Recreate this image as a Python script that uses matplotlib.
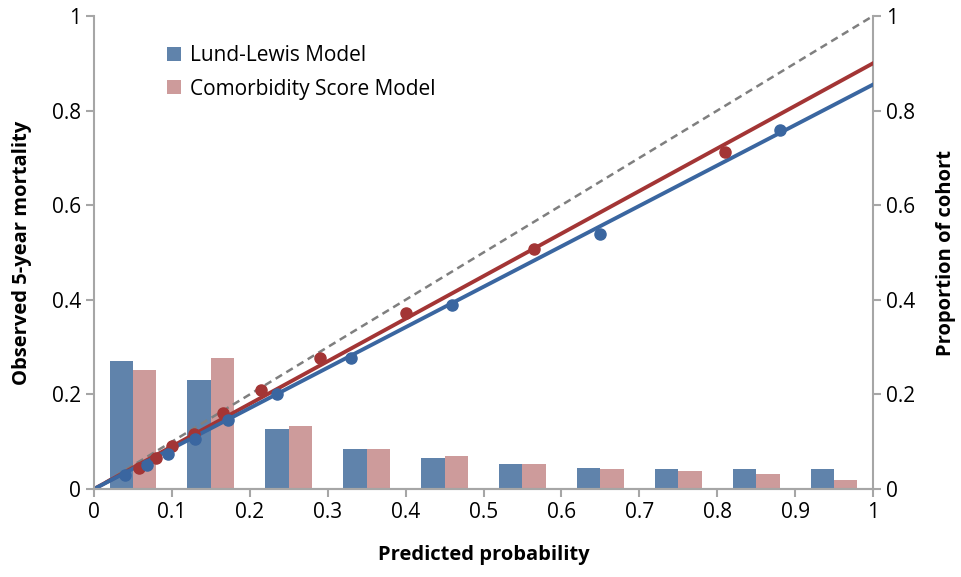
import numpy as np
import matplotlib.pyplot as plt
from matplotlib.ticker import FuncFormatter

plt.rcParams['font.family'] = ['Open Sans', 'DejaVu Sans']

# cohort proportion per decile of predicted probability
bin_centers = [0.05, 0.15, 0.25, 0.35, 0.45, 0.55, 0.65, 0.75, 0.85, 0.95]
lund_prop = [0.270, 0.231, 0.127, 0.085, 0.065, 0.053, 0.045, 0.043, 0.043, 0.043]
comorb_prop = [0.252, 0.278, 0.133, 0.085, 0.070, 0.053, 0.042, 0.037, 0.032, 0.020]

# calibration points (predicted, observed)
lund_pred = [0.040, 0.068, 0.095, 0.130, 0.172, 0.235, 0.330, 0.460, 0.650, 0.880]
lund_obs = [0.030, 0.050, 0.075, 0.105, 0.145, 0.200, 0.278, 0.390, 0.540, 0.758]
comorb_pred = [0.058, 0.080, 0.100, 0.128, 0.165, 0.215, 0.290, 0.400, 0.565, 0.810]
comorb_obs = [0.045, 0.065, 0.090, 0.117, 0.160, 0.210, 0.278, 0.373, 0.507, 0.713]

# fitted calibration lines (slope, intercept)
lund_fit = (0.855, 0.0)
comorb_fit = (0.900, 0.0)

blue_bar = '#6083ab'
pink_bar = '#cd9b9b'
blue_line = '#3a66a0'
red_line = '#a33535'
axis_gray = '#a6a6a6'

fig = plt.figure(figsize=(9.61, 5.77), dpi=100)
ax = fig.add_axes([94 / 961, 1 - 489 / 577, (873 - 94) / 961, (489 - 16) / 577])
ax2 = ax.twinx()

w = 0.03
c = np.array(bin_centers)
ax2.bar(c - w / 2, lund_prop, width=w, color=blue_bar, label='Lund-Lewis Model', zorder=1)
ax2.bar(c + w / 2, comorb_prop, width=w, color=pink_bar, label='Comorbidity Score Model', zorder=1)

# draw lines on top of bars
ax.set_zorder(ax2.get_zorder() + 1)
ax.patch.set_visible(False)

xs = np.array([0, 1])
ax.plot(xs, xs, ls='--', color='#7f7f7f', lw=1.8, dashes=(3, 2))
ax.plot(xs, comorb_fit[0] * xs + comorb_fit[1], color=red_line, lw=2.8)
ax.plot(xs, lund_fit[0] * xs + lund_fit[1], color=blue_line, lw=2.8)
ax.plot(comorb_pred, comorb_obs, 'o', color=red_line, ms=8)
ax.plot(lund_pred, lund_obs, 'o', color=blue_line, ms=8)

fmt = FuncFormatter(lambda v, p: '%g' % round(v, 2))
for a in (ax, ax2):
    a.set_xlim(0, 1)
    a.set_ylim(0, 1)
    a.set_yticks(np.arange(0, 1.01, 0.2))
    a.yaxis.set_major_formatter(fmt)
    a.spines['top'].set_visible(False)
    for s in a.spines.values():
        s.set_color(axis_gray)
        s.set_linewidth(1.5)
    a.tick_params(colors=axis_gray, labelcolor='black', labelsize=15, width=1.5, length=6)

ax.set_xticks(np.arange(0, 1.01, 0.1))
ax.xaxis.set_major_formatter(fmt)
ax.spines['right'].set_visible(False)
ax2.spines['left'].set_visible(False)

ax.set_xlabel('Predicted probability', fontsize=14.5, fontweight='bold', labelpad=16)
ax.set_ylabel('Observed 5-year mortality', fontsize=14.5, fontweight='bold', labelpad=14)
ax2.set_ylabel('Proportion of cohort', fontsize=14.5, fontweight='bold', labelpad=15)

ax2.legend(loc='upper left', bbox_to_anchor=(0.07, 0.978), frameon=False, fontsize=15,
           handlelength=0.65, handleheight=0.65, handletextpad=0.45, labelspacing=0.6)

fig.savefig('out.png', dpi=100)
